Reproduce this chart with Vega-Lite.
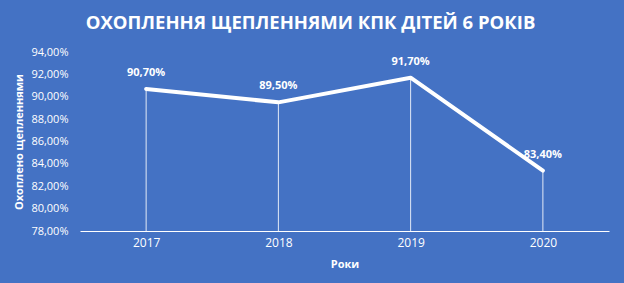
{
  "$schema": "https://vega.github.io/schema/vega-lite/v6.json",
  "width": 529,
  "height": 179,
  "autosize": {"type": "none"},
  "padding": {"left": 80, "top": 52, "right": 15, "bottom": 52},
  "background": "#4472C4",
  "title": {
    "text": "ОХОПЛЕННЯ ЩЕПЛЕННЯМИ КПК ДІТЕЙ 6 РОКІВ",
    "font": "Open Sans",
    "fontSize": 18.5,
    "fontWeight": "bold",
    "color": "white",
    "anchor": "middle",
    "frame": "group",
    "offset": 14,
    "dx": -34
  },
  "config": {
    "locale": {"number": {"decimal": ",", "thousands": " ", "grouping": [3], "currency": ["", ""]}},
    "view": {"stroke": null},
    "font": "Open Sans"
  },
  "data": {
    "values": [
      {"year": "2017", "value": 0.907},
      {"year": "2018", "value": 0.895},
      {"year": "2019", "value": 0.917},
      {"year": "2020", "value": 0.834}
    ]
  },
  "encoding": {
    "x": {
      "field": "year",
      "type": "ordinal",
      "scale": {"type": "point", "padding": 0.5},
      "axis": {
        "title": "Роки",
        "titleColor": "white",
        "titleFont": "Open Sans",
        "titleFontSize": 11,
        "titleFontWeight": "bold",
        "titlePadding": 10,
        "labelColor": "white",
        "labelFontSize": 12,
        "labelAngle": 0,
        "labelPadding": 6,
        "ticks": false,
        "domainColor": "white",
        "domainWidth": 1,
        "grid": false
      }
    },
    "y": {
      "field": "value",
      "type": "quantitative",
      "scale": {"domain": [0.78, 0.94], "nice": false, "zero": false},
      "axis": {
        "title": "Охоплено щепленнями",
        "titleColor": "white",
        "titleFontSize": 11,
        "titleFontWeight": "bold",
        "titlePadding": 6,
        "labelColor": "white",
        "labelFontSize": 11,
        "labelPadding": 12,
        "format": ".2%",
        "values": [0.78, 0.80, 0.82, 0.84, 0.86, 0.88, 0.90, 0.92, 0.94],
        "ticks": false,
        "domain": false,
        "grid": false
      }
    }
  },
  "layer": [
    {
      "mark": {"type": "rule", "color": "white", "strokeWidth": 1, "opacity": 0.85},
      "encoding": {"y2": {"datum": 0.78}}
    },
    {
      "mark": {"type": "line", "color": "white", "strokeWidth": 4, "strokeCap": "round", "strokeJoin": "round"}
    },
    {
      "mark": {"type": "text", "color": "white", "fontWeight": "bold", "fontSize": 11, "dy": -16},
      "encoding": {"text": {"field": "value", "type": "quantitative", "format": ".2%"}}
    }
  ]
}
